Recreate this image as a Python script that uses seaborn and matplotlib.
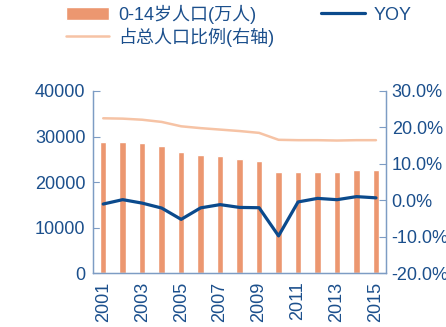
import matplotlib
matplotlib.use("Agg")
import matplotlib.pyplot as plt
import seaborn as sns
import numpy as np
import pandas as pd
from matplotlib.ticker import FuncFormatter, FixedLocator

years = [2001, 2002, 2003, 2004, 2005, 2006, 2007, 2008, 2009, 2010, 2011, 2012, 2013, 2014, 2015]
pop_0_14 = [28716, 28774, 28559, 27947, 26504, 25961, 25660, 25166, 24659, 22259, 22164, 22287, 22329, 22558, 22715]
yoy = [-1.0, 0.2, -0.75, -2.1, -5.2, -2.05, -1.16, -1.93, -2.01, -9.73, -0.43, 0.55, 0.19, 1.03, 0.70]
share = [22.5, 22.4, 22.1, 21.5, 20.3, 19.8, 19.4, 19.0, 18.5, 16.6, 16.5, 16.5, 16.4, 16.5, 16.5]
x_labels = ["2001", "2003", "2005", "2007", "2009", "2011", "2013", "2015"]
left_ticks = [0, 10000, 20000, 30000, 40000]
right_ticks = [-20, -10, 0, 10, 20, 30]

lbl_bar = "0-14岁人口(万人)"
lbl_yoy = "YOY"
lbl_share = "占总人口比例(右轴)"

df = pd.DataFrame({"year": years, "pop": pop_0_14, "yoy": yoy, "share": share})

sns.set_style("white")
plt.rcParams["font.family"] = ["Liberation Sans", "Noto Sans CJK SC", "DejaVu Sans"]

TXT = "#1B4F8C"
SPINE = "#7D9CC4"
BAR = "#EC9770"
LINE = "#0B4A8C"
SHARE = "#F6C3A5"

fig = plt.figure(figsize=(4.46, 3.27), dpi=100)
ax = fig.add_axes([0.2096, 0.164, 0.6552, 0.558])
ax2 = ax.twinx()

sns.barplot(data=df, x="year", y="pop", native_scale=True, color=BAR, width=0.33,
            ax=ax, saturation=1, label=lbl_bar)
sns.lineplot(data=df, x="year", y="share", ax=ax2, color=SHARE, linewidth=1.8, label=lbl_share, legend=False)
sns.lineplot(data=df, x="year", y="yoy", ax=ax2, color=LINE, linewidth=2.3, label=lbl_yoy, legend=False)

h1, l1 = ax.get_legend_handles_labels()
h2, l2 = ax2.get_legend_handles_labels()
for a in (ax, ax2):
    if a.get_legend() is not None:
        a.get_legend().remove()

ax.set_xlim(2000.5, 2015.5)
ax.set_ylim(0, 40000)
ax2.set_ylim(-20, 30)

ax.set_yticks(left_ticks)
ax.set_yticklabels([str(v) for v in left_ticks])
ax2.set_yticks(right_ticks)
ax2.yaxis.set_major_formatter(FuncFormatter(lambda v, p: f"{v:.1f}%"))

ax.xaxis.set_major_locator(FixedLocator([int(s) for s in x_labels]))
ax.set_xticklabels(x_labels, rotation=90)
ax.xaxis.set_minor_locator(FixedLocator([y + 0.5 for y in years[:-1]]))

ax.set_xlabel("")
ax.set_ylabel("")
ax2.set_ylabel("")
ax2.set_xlabel("")

ax.tick_params(axis="x", which="major", length=0, pad=6, labelsize=13, labelcolor=TXT)
ax.tick_params(axis="x", which="minor", length=3.3, direction="in", color=SPINE, width=0.8)
ax.tick_params(axis="y", length=5, direction="in", color=SPINE, width=0.8, pad=5.8, labelsize=13, labelcolor=TXT)
ax2.tick_params(axis="y", length=5, direction="in", color=SPINE, width=0.8, pad=4.3, labelsize=13, labelcolor=TXT)

for a in (ax, ax2):
    a.spines["top"].set_visible(False)
    for s in ("left", "right", "bottom"):
        a.spines[s].set_color(SPINE)
        a.spines[s].set_linewidth(0.9)

hd = dict(zip(l1 + l2, h1 + h2))
handles = [hd[lbl_bar], hd[lbl_share], hd[lbl_yoy]]
labels = [lbl_bar, lbl_share, lbl_yoy]
leg = fig.legend(handles, labels, ncol=2, loc="upper left", bbox_to_anchor=(0.111, 1.035),
                 frameon=False, fontsize=13, handlelength=2.4, handleheight=0.75,
                 columnspacing=2.6, handletextpad=0.5, labelspacing=0.2)
for t in leg.get_texts():
    t.set_color(TXT)

fig.savefig("out.png", dpi=100)
